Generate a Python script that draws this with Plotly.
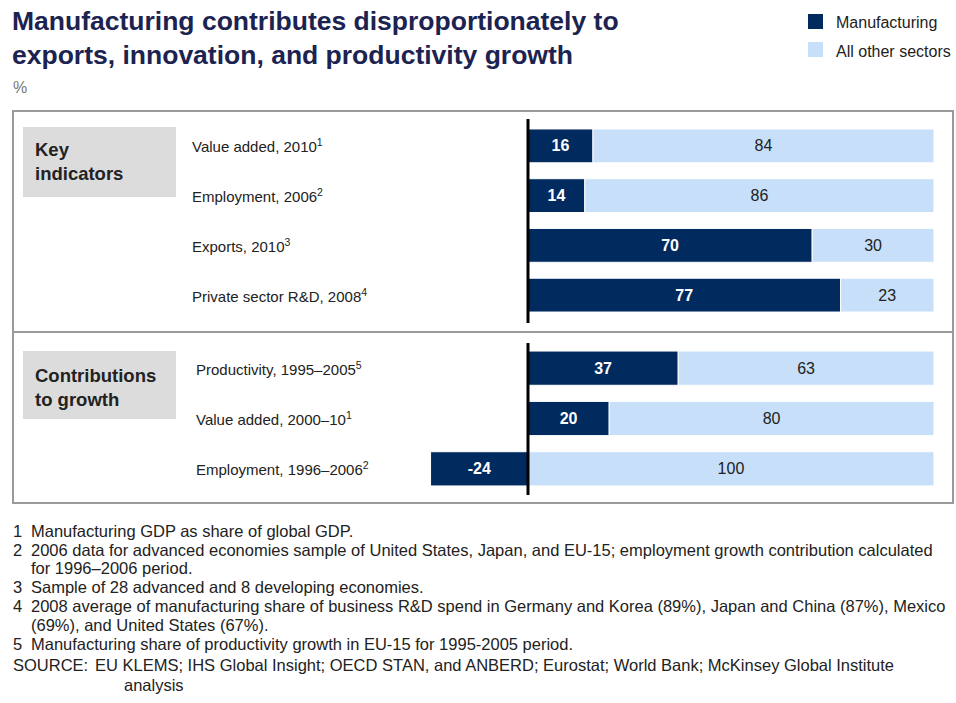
import plotly.graph_objects as go

# ---------------- data ----------------
top_categories = ["Value added, 2010<sup>1</sup>", "Employment, 2006<sup>2</sup>",
                  "Exports, 2010<sup>3</sup>", "Private sector R&D, 2008<sup>4</sup>"]
top_manufacturing = [16, 14, 70, 77]
top_other = [84, 86, 30, 23]

bottom_categories = ["Productivity, 1995–2005<sup>5</sup>", "Value added, 2000–10<sup>1</sup>",
                     "Employment, 1996–2006<sup>2</sup>"]
bottom_manufacturing = [37, 20, -24]
bottom_other = [63, 80, 100]

series_names = ["Manufacturing", "All other sectors"]
panel_titles = ["Key<br>indicators", "Contributions<br>to growth"]

title_text = "Manufacturing contributes disproportionately to<br>exports, innovation, and productivity growth"
unit_text = "%"

footnotes = [
    ("1", "Manufacturing GDP as share of global GDP."),
    ("2", "2006 data for advanced economies sample of United States, Japan, and EU-15; employment growth contribution calculated"),
    ("", "for 1996–2006 period."),
    ("3", "Sample of 28 advanced and 8 developing economies."),
    ("4", "2008 average of manufacturing share of business R&D spend in Germany and Korea (89%), Japan and China (87%), Mexico"),
    ("", "(69%), and United States (67%)."),
    ("5", "Manufacturing share of productivity growth in EU-15 for 1995-2005 period."),
]
source_label = "SOURCE:"
source_lines = ["EU KLEMS; IHS Global Insight; OECD STAN, and ANBERD; Eurostat; World Bank; McKinsey Global Institute",
                "analysis"]

# ---------------- style ----------------
W, H = 956, 703
DARK = "#012a5f"
LIGHT = "#c7dff8"
TXT = "#222222"
TITLE_C = "#1c2350"
FONT = "Liberation Sans, Arial, sans-serif"
FOOT_SIZE = 16.5


def px(x):
    return x / W


def py(y):
    return 1 - y / H


zero_px, px_per_unit = 528, 4.06
x_range = [-zero_px / px_per_unit, (W - zero_px) / px_per_unit]

fig = go.Figure()

panels = [
    (top_categories, top_manufacturing, top_other, "x", "y"),
    (bottom_categories, bottom_manufacturing, bottom_other, "x2", "y2"),
]
for cats, mfg, oth, xa, ya in panels:
    fig.add_trace(go.Bar(
        y=cats, x=mfg, orientation="h", name=series_names[0], xaxis=xa, yaxis=ya,
        marker=dict(color=DARK, line=dict(color="white", width=1)),
        text=["<b>%d</b>" % v for v in mfg], texttemplate="%{text}",
        textposition="inside", insidetextanchor="middle",
        textfont=dict(color="white", size=16, family=FONT),
        hoverinfo="skip", showlegend=False, cliponaxis=False,
    ))
    fig.add_trace(go.Bar(
        y=cats, x=oth, orientation="h", name=series_names[1], xaxis=xa, yaxis=ya,
        marker=dict(color=LIGHT, line=dict(color="white", width=1)),
        text=["%d" % v for v in oth], texttemplate="%{text}",
        textposition="inside", insidetextanchor="middle",
        textfont=dict(color=TXT, size=16, family=FONT),
        hoverinfo="skip", showlegend=False, cliponaxis=False,
    ))

axis_common = dict(visible=False, fixedrange=True)
fig.update_layout(
    width=W, height=H,
    margin=dict(l=0, r=0, t=0, b=0),
    paper_bgcolor="white", plot_bgcolor="rgba(0,0,0,0)",
    barmode="relative", bargap=0.32,
    font=dict(family=FONT, color=TXT),
    xaxis=dict(range=x_range, domain=[0, 1], anchor="y", **axis_common),
    xaxis2=dict(range=x_range, domain=[0, 1], anchor="y2", **axis_common),
    yaxis=dict(type="category", categoryorder="array", categoryarray=top_categories,
               range=[3.5, -0.5], domain=[py(320), py(121)], **axis_common),
    yaxis2=dict(type="category", categoryorder="array", categoryarray=bottom_categories,
                range=[2.5, -0.5], domain=[py(494), py(343)], **axis_common),
)

shapes = []
# panel boxes
for y0, y1 in [(111, 332), (332, 503)]:
    shapes.append(dict(type="rect", xref="paper", yref="paper", x0=px(13), x1=px(953),
                       y0=py(y1), y1=py(y0), line=dict(color="#9a9a9a", width=2),
                       fillcolor="rgba(0,0,0,0)", layer="below"))
# grey label boxes
for y0, y1 in [(127, 197), (351, 419)]:
    shapes.append(dict(type="rect", xref="paper", yref="paper", x0=px(23), x1=px(176),
                       y0=py(y1), y1=py(y0), line=dict(width=0), fillcolor="#dcdcdc",
                       layer="below"))
# zero axis lines
for xa, y0, y1 in [("x", 119, 323), ("x2", 343, 495)]:
    shapes.append(dict(type="line", xref=xa, yref="paper", x0=0, x1=0,
                       y0=py(y1), y1=py(y0), line=dict(color="black", width=3),
                       layer="above"))
# legend swatches
for (y0, y1), col in zip([(14, 29), (42, 57)], [DARK, LIGHT]):
    shapes.append(dict(type="rect", xref="paper", yref="paper", x0=px(808), x1=px(823),
                       y0=py(y1), y1=py(y0), line=dict(width=0), fillcolor=col))
fig.update_layout(shapes=shapes)

ann = []
# title
ann.append(dict(text="<b>" + title_text + "</b>", xref="paper", yref="paper",
                x=px(10), y=py(37.5), xanchor="left", yanchor="middle", align="left",
                showarrow=False, font=dict(size=26.5, color=TITLE_C, family=FONT)))
ann.append(dict(text=unit_text, xref="paper", yref="paper", x=px(11), y=py(88),
                xanchor="left", yanchor="middle", showarrow=False,
                font=dict(size=16, color="#777777", family=FONT)))
# legend labels
for name, yy in zip(series_names, [22, 52]):
    ann.append(dict(text=name, xref="paper", yref="paper", x=px(834), y=py(yy),
                    xanchor="left", yanchor="middle", showarrow=False,
                    font=dict(size=16, color=TXT, family=FONT)))
# panel titles
for t, yy in zip(panel_titles, [162, 387]):
    ann.append(dict(text="<b>" + t + "</b>", xref="paper", yref="paper", x=px(33), y=py(yy),
                    xanchor="left", yanchor="middle", align="left", showarrow=False,
                    font=dict(size=18.5, color=TXT, family=FONT)))
# row labels
for cats, ya, xl in [(top_categories, "y", 190), (bottom_categories, "y2", 194)]:
    for c in cats:
        ann.append(dict(text=c, xref="paper", yref=ya, x=px(xl), y=c,
                        xanchor="left", yanchor="middle", showarrow=False,
                        font=dict(size=15, color=TXT, family=FONT)))
# footnotes
foot_y = [531, 550, 568, 587, 606, 625, 644]
for (num, txt), yy in zip(footnotes, foot_y):
    if num:
        ann.append(dict(text=num, xref="paper", yref="paper", x=px(11), y=py(yy),
                        xanchor="left", yanchor="middle", showarrow=False,
                        font=dict(size=FOOT_SIZE, color=TXT, family=FONT)))
    ann.append(dict(text=txt, xref="paper", yref="paper", x=px(29), y=py(yy),
                    xanchor="left", yanchor="middle", showarrow=False,
                    font=dict(size=FOOT_SIZE, color=TXT, family=FONT)))
ann.append(dict(text=source_label, xref="paper", yref="paper", x=px(11), y=py(665),
                xanchor="left", yanchor="middle", showarrow=False,
                font=dict(size=FOOT_SIZE, color=TXT, family=FONT)))
for txt, xx, yy in zip(source_lines, [93, 122], [665, 685]):
    ann.append(dict(text=txt, xref="paper", yref="paper", x=px(xx), y=py(yy),
                    xanchor="left", yanchor="middle", showarrow=False,
                    font=dict(size=FOOT_SIZE, color=TXT, family=FONT)))
fig.update_layout(annotations=ann)

fig.write_html("out.html")
